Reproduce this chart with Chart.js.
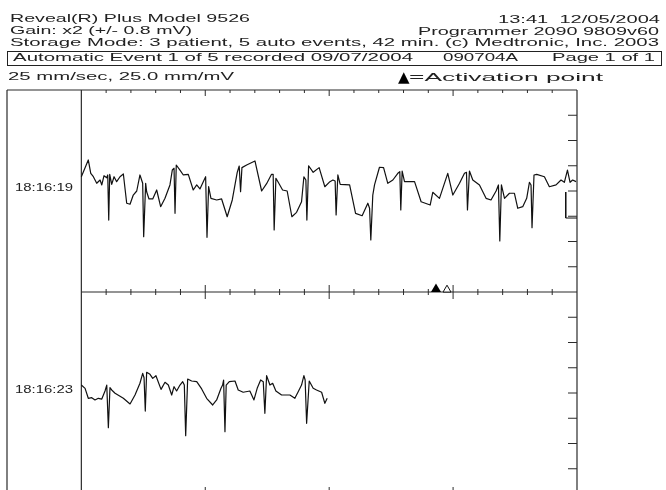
<!DOCTYPE html>
<html>
<head>
<meta charset="utf-8">
<title>Reveal Plus event strip</title>
<script src="https://cdn.jsdelivr.net/npm/chart.js@4.4.1/dist/chart.umd.min.js"></script>
<style>
  html, body { margin: 0; padding: 0; background: #fff; }
  body {
    width: 666px; height: 490px; overflow: hidden; position: relative;
    font-family: "Liberation Sans", Arial, sans-serif; color: #222;
  }
  #wrap { position: absolute; left: 0; top: 0; width: 666px; height: 500px; }
  .t { position: absolute; white-space: pre; font-size: 10.5px; line-height: 11px; transform-origin: 0 50%; }
  .t.small { font-size: 11px; line-height: 11px; }
  .t.mark { font-family: "DejaVu Sans", sans-serif; font-size: 15px; line-height: 15px; color: #000; }
  .box { position: absolute; left: 7px; top: 51px; width: 653px; height: 13px; border: 1px solid #222; }
</style>
</head>
<body>
<div id="wrap"><canvas id="ecg"></canvas></div>
<div class="box"></div>

<span class="t" data-x="10" data-base="22" data-w="240">Reveal(R) Plus Model 9526</span>
<span class="t" data-x="498" data-base="23" data-w="162">13:41  12/05/2004</span>
<span class="t" data-x="10" data-base="34" data-w="182">Gain: x2 (+/- 0.8 mV)</span>
<span class="t" data-x="418" data-base="35" data-w="241">Programmer 2090 9809v60</span>
<span class="t" data-x="10" data-base="46" data-w="649">Storage Mode: 3 patient, 5 auto events, 42 min. (c) Medtronic, Inc. 2003</span>
<span class="t" data-x="13" data-base="61" data-w="400">Automatic Event 1 of 5 recorded 09/07/2004</span>
<span class="t" data-x="443" data-base="61" data-w="75">090704A</span>
<span class="t" data-x="552" data-base="61" data-w="103">Page 1 of 1</span>
<span class="t" data-x="8" data-base="80" data-w="226">25 mm/sec, 25.0 mm/mV</span>
<span class="t mark" data-x="398" data-base="83">▲</span>
<span class="t" data-x="409" data-base="81" data-w="194">=Activation point</span>
<span class="t small" id="lbl0" data-x="15" data-base="191" data-w="58"></span>
<span class="t small" id="lbl1" data-x="15" data-base="393" data-w="58"></span>

<script>
// Strip start times (one 4 s strip each)
const stripLabels = ['18:16:19', '18:16:23'];

// Upper strip: time (s) and amplitude (mV, relative to strip baseline)
const upperSec = [
  0, 0.056, 0.076, 0.097, 0.124, 0.151, 0.165, 0.183, 0.205, 0.213,
  0.221, 0.229, 0.245, 0.264, 0.285, 0.312, 0.339, 0.366, 0.393, 0.419,
  0.447, 0.473, 0.495, 0.503, 0.519, 0.527, 0.546, 0.576, 0.608, 0.640,
  0.675, 0.715, 0.734, 0.748, 0.756, 0.766, 0.796, 0.823, 0.863, 0.903,
  0.931, 0.957, 0.984, 1.003, 1.014, 1.027, 1.046, 1.092, 1.132, 1.177,
  1.218, 1.258, 1.274, 1.285, 1.296, 1.334, 1.401, 1.455, 1.495, 1.535,
  1.548, 1.556, 1.570, 1.589, 1.624, 1.661, 1.699, 1.737, 1.777, 1.796,
  1.812, 1.820, 1.834, 1.871, 1.919, 1.965, 2.006, 2.030, 2.048, 2.056,
  2.070, 2.089, 2.165, 2.213, 2.266, 2.312, 2.326, 2.336, 2.352, 2.366,
  2.406, 2.439, 2.473, 2.514, 2.554, 2.570, 2.578, 2.589, 2.608, 2.689,
  2.742, 2.815, 2.836, 2.890, 2.957, 2.998, 3.052, 3.092, 3.108, 3.116,
  3.132, 3.159, 3.213, 3.266, 3.306, 3.347, 3.366, 3.377, 3.390, 3.415,
  3.455, 3.495, 3.522, 3.562, 3.594, 3.616, 3.629, 3.637, 3.653, 3.675,
  3.737, 3.777, 3.831, 3.871, 3.898, 3.923, 3.944, 3.965, 3.992
];
const upperMv = [
  0.113, 0.246, 0.140, 0.113, 0.061, 0.087, 0.048, 0.121, 0.105, 0.127,
  -0.230, 0.132, 0.053, 0.113, 0.074, 0.113, 0.135, -0.097, -0.105, -0.032,
  0, 0.127, 0.061, -0.362, 0.061, -0.006, -0.063, -0.063, 0.008, -0.124,
  -0.058, 0.048, 0.166, 0.180, -0.177, 0.206, 0.166, 0.127, 0.132, 0.008,
  0.048, 0.016, 0.074, 0.113, -0.367, 0.034, -0.058, -0.071, -0.063, -0.204,
  -0.071, 0.148, 0.198, -0.006, 0.185, 0.206, 0.238, 0, 0.058, 0.132,
  0.132, -0.309, 0.101, 0.069, 0.008, 0, -0.204, -0.169, -0.085, 0.113,
  0.087, -0.230, 0.200, 0.148, 0.185, 0.034, 0.074, 0.087, 0.079, -0.190,
  0.127, 0.053, 0.048, -0.177, -0.196, -0.097, -0.137, -0.388, -0.032, 0.048,
  0.188, 0.185, 0.061, 0.087, 0.140, 0.153, -0.150, 0.158, 0.074, 0.074,
  -0.085, -0.111, -0.010, -0.058, 0.140, -0.032, 0.061, 0.140, 0.148, -0.150,
  0.158, 0.087, 0.048, -0.058, -0.071, 0, 0.048, -0.396, 0.048, -0.058,
  -0.018, -0.018, -0.137, -0.124, -0.058, 0.069, 0.048, -0.291, 0.127, 0.132,
  0.113, 0.034, 0.048, 0.087, 0.069, 0.166, 0.069, 0.087, 0.074
];

// Lower strip (recording stops at ~2 s)
const lowerSec = [
  0, 0.030, 0.056, 0.084, 0.110, 0.137, 0.165, 0.191, 0.205, 0.218,
  0.231, 0.245, 0.272, 0.339, 0.393, 0.433, 0.473, 0.495, 0.506, 0.516,
  0.527, 0.554, 0.576, 0.602, 0.643, 0.675, 0.702, 0.729, 0.748, 0.769,
  0.796, 0.818, 0.831, 0.842, 0.858, 0.890, 0.931, 0.971, 1.011, 1.060,
  1.092, 1.127, 1.140, 1.148, 1.159, 1.169, 1.194, 1.240, 1.266, 1.306,
  1.360, 1.393, 1.419, 1.447, 1.468, 1.481, 1.495, 1.522, 1.544, 1.570,
  1.616, 1.683, 1.723, 1.750, 1.777, 1.796, 1.806, 1.818, 1.839, 1.871,
  1.898, 1.939, 1.965, 1.984
];
const lowerMv = [
  0.063, 0.037, -0.042, -0.037, -0.055, -0.042, -0.048, 0.016, 0.063, -0.275,
  0.042, 0.024, -0.002, -0.042, -0.087, -0.016, 0.077, 0.156, 0.121, -0.143,
  0.164, 0.148, 0.116, 0.137, 0.029, 0.085, 0.063, -0.016, 0.050, 0.016,
  0.063, 0.090, 0.063, -0.338, 0.111, 0.095, 0.090, 0.032, -0.042, -0.095,
  -0.055, 0.037, 0.063, 0.103, -0.307, 0.063, 0.090, 0.095, 0.024, 0.006,
  0.016, -0.055, 0.037, 0.103, 0.090, -0.161, 0.137, 0.063, 0.077, 0.016,
  -0.016, -0.016, -0.042, 0.010, 0.063, 0.137, 0.103, -0.240, 0.095, 0.037,
  0.024, 0.006, -0.082, -0.042
];

// End-of-strip step on the upper trace
const stepSec = [3.909, 3.909, 4.0];
const stepMv = [-0.008, -0.214, -0.214];

// Markers under the upper strip
const activationSec = [2.862];
const detectSec = [2.951];

// Grid: 25 mm/sec -> small tick every 0.2 s, 25 mm/mV -> 0.2 mV
const minorTicksSec = [0.2, 0.4, 0.6, 0.8, 1, 1.2, 1.4, 1.6, 1.8, 2, 2.2, 2.4, 2.6, 2.8, 3, 3.2, 3.4, 3.6, 3.8];
const majorTicksSec = [1, 2, 3];
const ampTicksMv = [-0.6, -0.4, -0.2, 0, 0.2, 0.4, 0.6];
const stripCentersMv = [0.8, -0.8];   // each strip is +/- 0.8 mV
const labelColSec = -0.6;              // left column holding the times

const framePlugin = {
  id: 'frame',
  beforeDatasetsDraw(chart) {
    const { ctx, scales: { x, y } } = chart;
    const X = v => x.getPixelForValue(v);
    const Y = v => y.getPixelForValue(v);
    const line = (x1, y1, x2, y2) => {
      ctx.beginPath(); ctx.moveTo(x1, y1); ctx.lineTo(x2, y2); ctx.stroke();
    };
    ctx.save();
    ctx.strokeStyle = '#2b2b2b';
    ctx.lineWidth = 1.2;
    // borders
    line(X(labelColSec), Y(1.6), X(4), Y(1.6));
    line(X(labelColSec), Y(1.6), X(labelColSec), Y(-1.6));
    line(X(0), Y(1.6), X(0), Y(-1.6));
    line(X(4), Y(1.6), X(4), Y(-1.6));
    line(X(0), Y(0), X(4), Y(0));
    line(X(0), Y(-1.6), X(4), Y(-1.6));
    // time ticks
    ctx.lineWidth = 1;
    minorTicksSec.forEach(s => {
      const major = majorTicksSec.includes(s);
      line(X(s), Y(1.6), X(s), Y(1.6) + (major ? 6 : 3));
      line(X(s), Y(0) - (major ? 7 : 3), X(s), Y(0) + (major ? 7 : 3));
      line(X(s), Y(-1.6), X(s), Y(-1.6) - (major ? 7 : 3));
    });
    // amplitude ticks on right edge
    stripCentersMv.forEach(c => {
      ampTicksMv.forEach(v => line(X(4) - 9, Y(c + v), X(4), Y(c + v)));
    });
    ctx.restore();
  }
};

function initChart() {
  const trace = (secs, mvs, center) => secs.map((s, i) => ({ x: s, y: mvs[i] + center }));
  const lineStyle = {
    showLine: true, pointRadius: 0, borderColor: '#111', borderWidth: 1.2,
    tension: 0, borderJoinStyle: 'round', clip: false
  };
  const markerLift = 0.022;

  new Chart(document.getElementById('ecg'), {
    type: 'scatter',
    data: {
      datasets: [
        { label: stripLabels[0], data: trace(upperSec, upperMv, stripCentersMv[0]), ...lineStyle },
        { label: stripLabels[1], data: trace(lowerSec, lowerMv, stripCentersMv[1]), ...lineStyle },
        { label: 'step', data: trace(stepSec, stepMv, stripCentersMv[0]), ...lineStyle, borderWidth: 1 },
        {
          label: 'Activation point',
          data: activationSec.map(s => ({ x: s, y: markerLift })),
          pointStyle: 'triangle', pointRadius: 5.8, backgroundColor: '#000', borderColor: '#000', borderWidth: 0
        },
        {
          label: 'Detect',
          data: detectSec.map(s => ({ x: s, y: markerLift * 0.8 })),
          pointStyle: 'triangle', pointRadius: 4.6, backgroundColor: '#fff', borderColor: '#111', borderWidth: 1
        }
      ]
    },
    options: {
      responsive: true,
      maintainAspectRatio: false,
      animation: false,
      events: [],
      layout: { padding: { left: 7, right: 89, top: 90, bottom: 6 } },
      scales: {
        x: { type: 'linear', min: labelColSec, max: 4, display: false },
        y: { min: -1.6, max: 1.6, display: false }
      },
      plugins: { legend: { display: false }, tooltip: { enabled: false } }
    },
    plugins: [framePlugin]
  });
}

// Place header texts and stretch them to the printed widths
function layoutText() {
  document.getElementById('lbl0').textContent = stripLabels[0];
  document.getElementById('lbl1').textContent = stripLabels[1];
  document.querySelectorAll('.t').forEach(el => {
    const size = parseFloat(getComputedStyle(el).fontSize);
    el.style.left = el.dataset.x + 'px';
    el.style.top = (el.dataset.base - Math.round(size * 0.85)) + 'px';
    if (!el.dataset.w) return;
    const w = el.getBoundingClientRect().width;
    el.style.transform = `scaleX(${el.dataset.w / w})`;
  });
}

document.addEventListener('DOMContentLoaded', () => {
  layoutText();
  initChart();
});
</script>
</body>
</html>
